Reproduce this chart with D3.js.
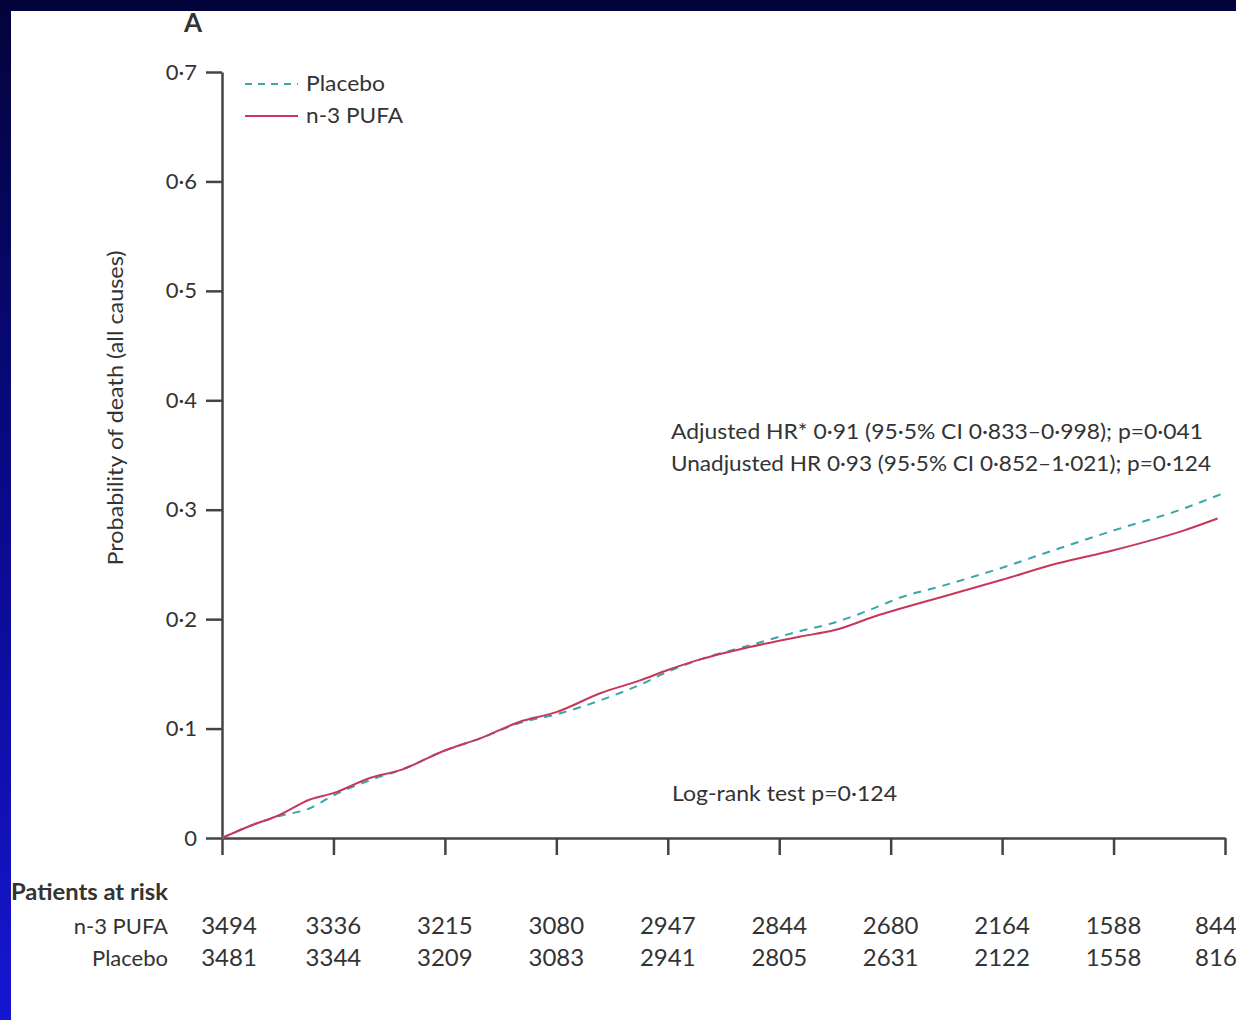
<!DOCTYPE html>
<html>
<head>
<meta charset="utf-8">
<script src="https://cdn.jsdelivr.net/npm/d3@7"></script>
<style>
  html, body { margin: 0; padding: 0; }
  body { width: 1236px; height: 1020px; overflow: hidden;
         background: linear-gradient(to bottom, #03033a 0%, #0a0a8c 50%, #1616d2 100%); }
  svg { display: block; }
  text { font-family: Lato, "Noto Sans", sans-serif; fill: #333333; }
</style>
</head>
<body>
<div id="chart"></div>
<script>
// x values are months of follow-up, y values probability of death
var n3Months = [0, 1.5, 3.1, 4.7, 6, 8, 9.6, 12, 13.9, 16, 18, 20.4, 22.5, 24, 25.7, 28.4, 31.1, 33, 35.4, 36.4, 38.7, 42, 45, 48, 50, 51.6, 53.6];
var n3Risk = [0, 0.011, 0.021, 0.035, 0.041, 0.055, 0.062, 0.080, 0.091, 0.106, 0.115, 0.1325, 0.144, 0.1535, 0.163, 0.1745, 0.184, 0.190, 0.204, 0.209, 0.220, 0.236, 0.251, 0.263, 0.272, 0.280, 0.292];
var placeboMonths = [0, 1.5, 3.1, 4.7, 6, 8, 9.6, 12, 13.9, 16, 18, 20.4, 22.5, 24, 25.7, 28.4, 31.1, 32.9, 35.4, 36.4, 38.7, 42, 44.6, 48, 51.6, 53.9];
var placeboRisk = [0, 0.011, 0.020, 0.027, 0.039, 0.053, 0.062, 0.080, 0.091, 0.105, 0.113, 0.126, 0.140, 0.152, 0.163, 0.176, 0.189, 0.1965, 0.212, 0.219, 0.230, 0.247, 0.262, 0.281, 0.300, 0.315];

var xTicks = [0, 6, 12, 18, 24, 30, 36, 42, 48, 54];
var yTicks = [0, 0.1, 0.2, 0.3, 0.4, 0.5, 0.6, 0.7];
var atRiskN3 = [3494, 3336, 3215, 3080, 2947, 2844, 2680, 2164, 1588, 844];
var atRiskPlacebo = [3481, 3344, 3209, 3083, 2941, 2805, 2631, 2122, 1558, 816];

var W = 1236, H = 1020;
var COLOR_AXIS = '#444444';
var COLOR_N3 = '#c8375a';
var COLOR_PLACEBO = '#3aa6aa';

var svg = d3.select('#chart').append('svg').attr('width', W).attr('height', H);

// white panel over the blue frame
svg.append('rect').attr('x', 11).attr('y', 11).attr('width', W - 11).attr('height', H - 11).attr('fill', '#ffffff');

var x = d3.scaleLinear().domain([0, 54]).range([222, 1225]);
var y = d3.scaleLinear().domain([0, 0.7]).range([838, 72]);

function fmt(v) {
  return v === 0 ? '0' : d3.format('.1f')(v).replace('.', '\u00b7');
}

var yAxis = svg.append('g')
  .attr('transform', 'translate(222,0)')
  .call(d3.axisLeft(y).tickValues(yTicks).tickFormat(fmt).tickSize(16).tickSizeOuter(0).tickPadding(9));

var xAxis = svg.append('g')
  .attr('transform', 'translate(0,838)')
  .call(d3.axisBottom(x).tickValues(xTicks).tickFormat('').tickSize(17).tickSizeOuter(0));

[yAxis, xAxis].forEach(function (g) {
  g.select('.domain').attr('stroke', COLOR_AXIS).attr('stroke-width', 2.5);
  g.selectAll('.tick line').attr('stroke', COLOR_AXIS).attr('stroke-width', 2.5);
});
yAxis.selectAll('.tick text').attr('font-size', 22).attr('fill', '#333').attr('font-family', 'Lato, sans-serif');

// axis title
svg.append('text')
  .attr('transform', 'translate(123,408) rotate(-90)')
  .attr('text-anchor', 'middle')
  .attr('font-size', 22)
  .attr('textLength', 315).attr('lengthAdjust', 'spacingAndGlyphs')
  .text('Probability of death (all causes)');

// panel letter
svg.append('text').attr('x', 193).attr('y', 32).attr('text-anchor', 'middle')
  .attr('font-size', 26).attr('font-weight', 700).text('A');

var line = d3.line()
  .x(function (d) { return x(d[0]); })
  .y(function (d) { return y(d[1]); })
  .curve(d3.curveMonotoneX);

svg.append('path')
  .datum(d3.zip(placeboMonths, placeboRisk))
  .attr('d', line)
  .attr('fill', 'none')
  .attr('stroke', COLOR_PLACEBO)
  .attr('stroke-width', 2)
  .attr('stroke-dasharray', '8,7');

svg.append('path')
  .datum(d3.zip(n3Months, n3Risk))
  .attr('d', line)
  .attr('fill', 'none')
  .attr('stroke', COLOR_N3)
  .attr('stroke-width', 2);

// legend
var legend = [
  { label: 'Placebo', color: COLOR_PLACEBO, dash: '7,6', y: 84, w: 79 },
  { label: 'n-3 PUFA', color: COLOR_N3, dash: null, y: 116, w: 97 }
];
legend.forEach(function (d) {
  svg.append('line').attr('x1', 245).attr('x2', 298).attr('y1', d.y).attr('y2', d.y)
    .attr('stroke', d.color).attr('stroke-width', 2).attr('stroke-dasharray', d.dash);
  svg.append('text').attr('x', 306).attr('y', d.y + 7).attr('font-size', 22)
    .attr('textLength', d.w).attr('lengthAdjust', 'spacingAndGlyphs').text(d.label);
});

// annotations
var notes = [
  { t: 'Adjusted HR* 0\u00b791 (95\u00b75% CI 0\u00b7833\u20130\u00b7998); p=0\u00b7041', x: 671, y: 439, w: 532 },
  { t: 'Unadjusted HR 0\u00b793 (95\u00b75% CI 0\u00b7852\u20131\u00b7021); p=0\u00b7124', x: 671, y: 471, w: 540 },
  { t: 'Log-rank test p=0\u00b7124', x: 672, y: 801, w: 225 }
];
notes.forEach(function (d) {
  svg.append('text').attr('x', d.x).attr('y', d.y).attr('font-size', 22)
    .attr('textLength', d.w).attr('lengthAdjust', 'spacingAndGlyphs').text(d.t);
});

// patients at risk table
svg.append('text').attr('x', 11).attr('y', 900).attr('font-size', 22).attr('font-weight', 700)
  .attr('textLength', 157).attr('lengthAdjust', 'spacingAndGlyphs')
  .attr('fill', '#2a2a2a').text('Patients at risk');

var rows = [
  { label: 'n-3 PUFA', values: atRiskN3, y: 934 },
  { label: 'Placebo', values: atRiskPlacebo, y: 966 }
];
rows.forEach(function (r) {
  svg.append('text').attr('x', 168).attr('y', r.y).attr('text-anchor', 'end')
    .attr('font-size', 22).text(r.label);
  svg.selectAll(null).data(r.values).enter().append('text')
    .attr('x', function (v, i) { return x(xTicks[i]) + (i === 0 ? 7 : 0) - (i === xTicks.length - 1 ? 9 : 0); })
    .attr('y', r.y)
    .attr('text-anchor', 'middle')
    .attr('font-size', 24)
    .attr('fill', '#444')
    .text(function (v) { return v; });
});
</script>
</body>
</html>
